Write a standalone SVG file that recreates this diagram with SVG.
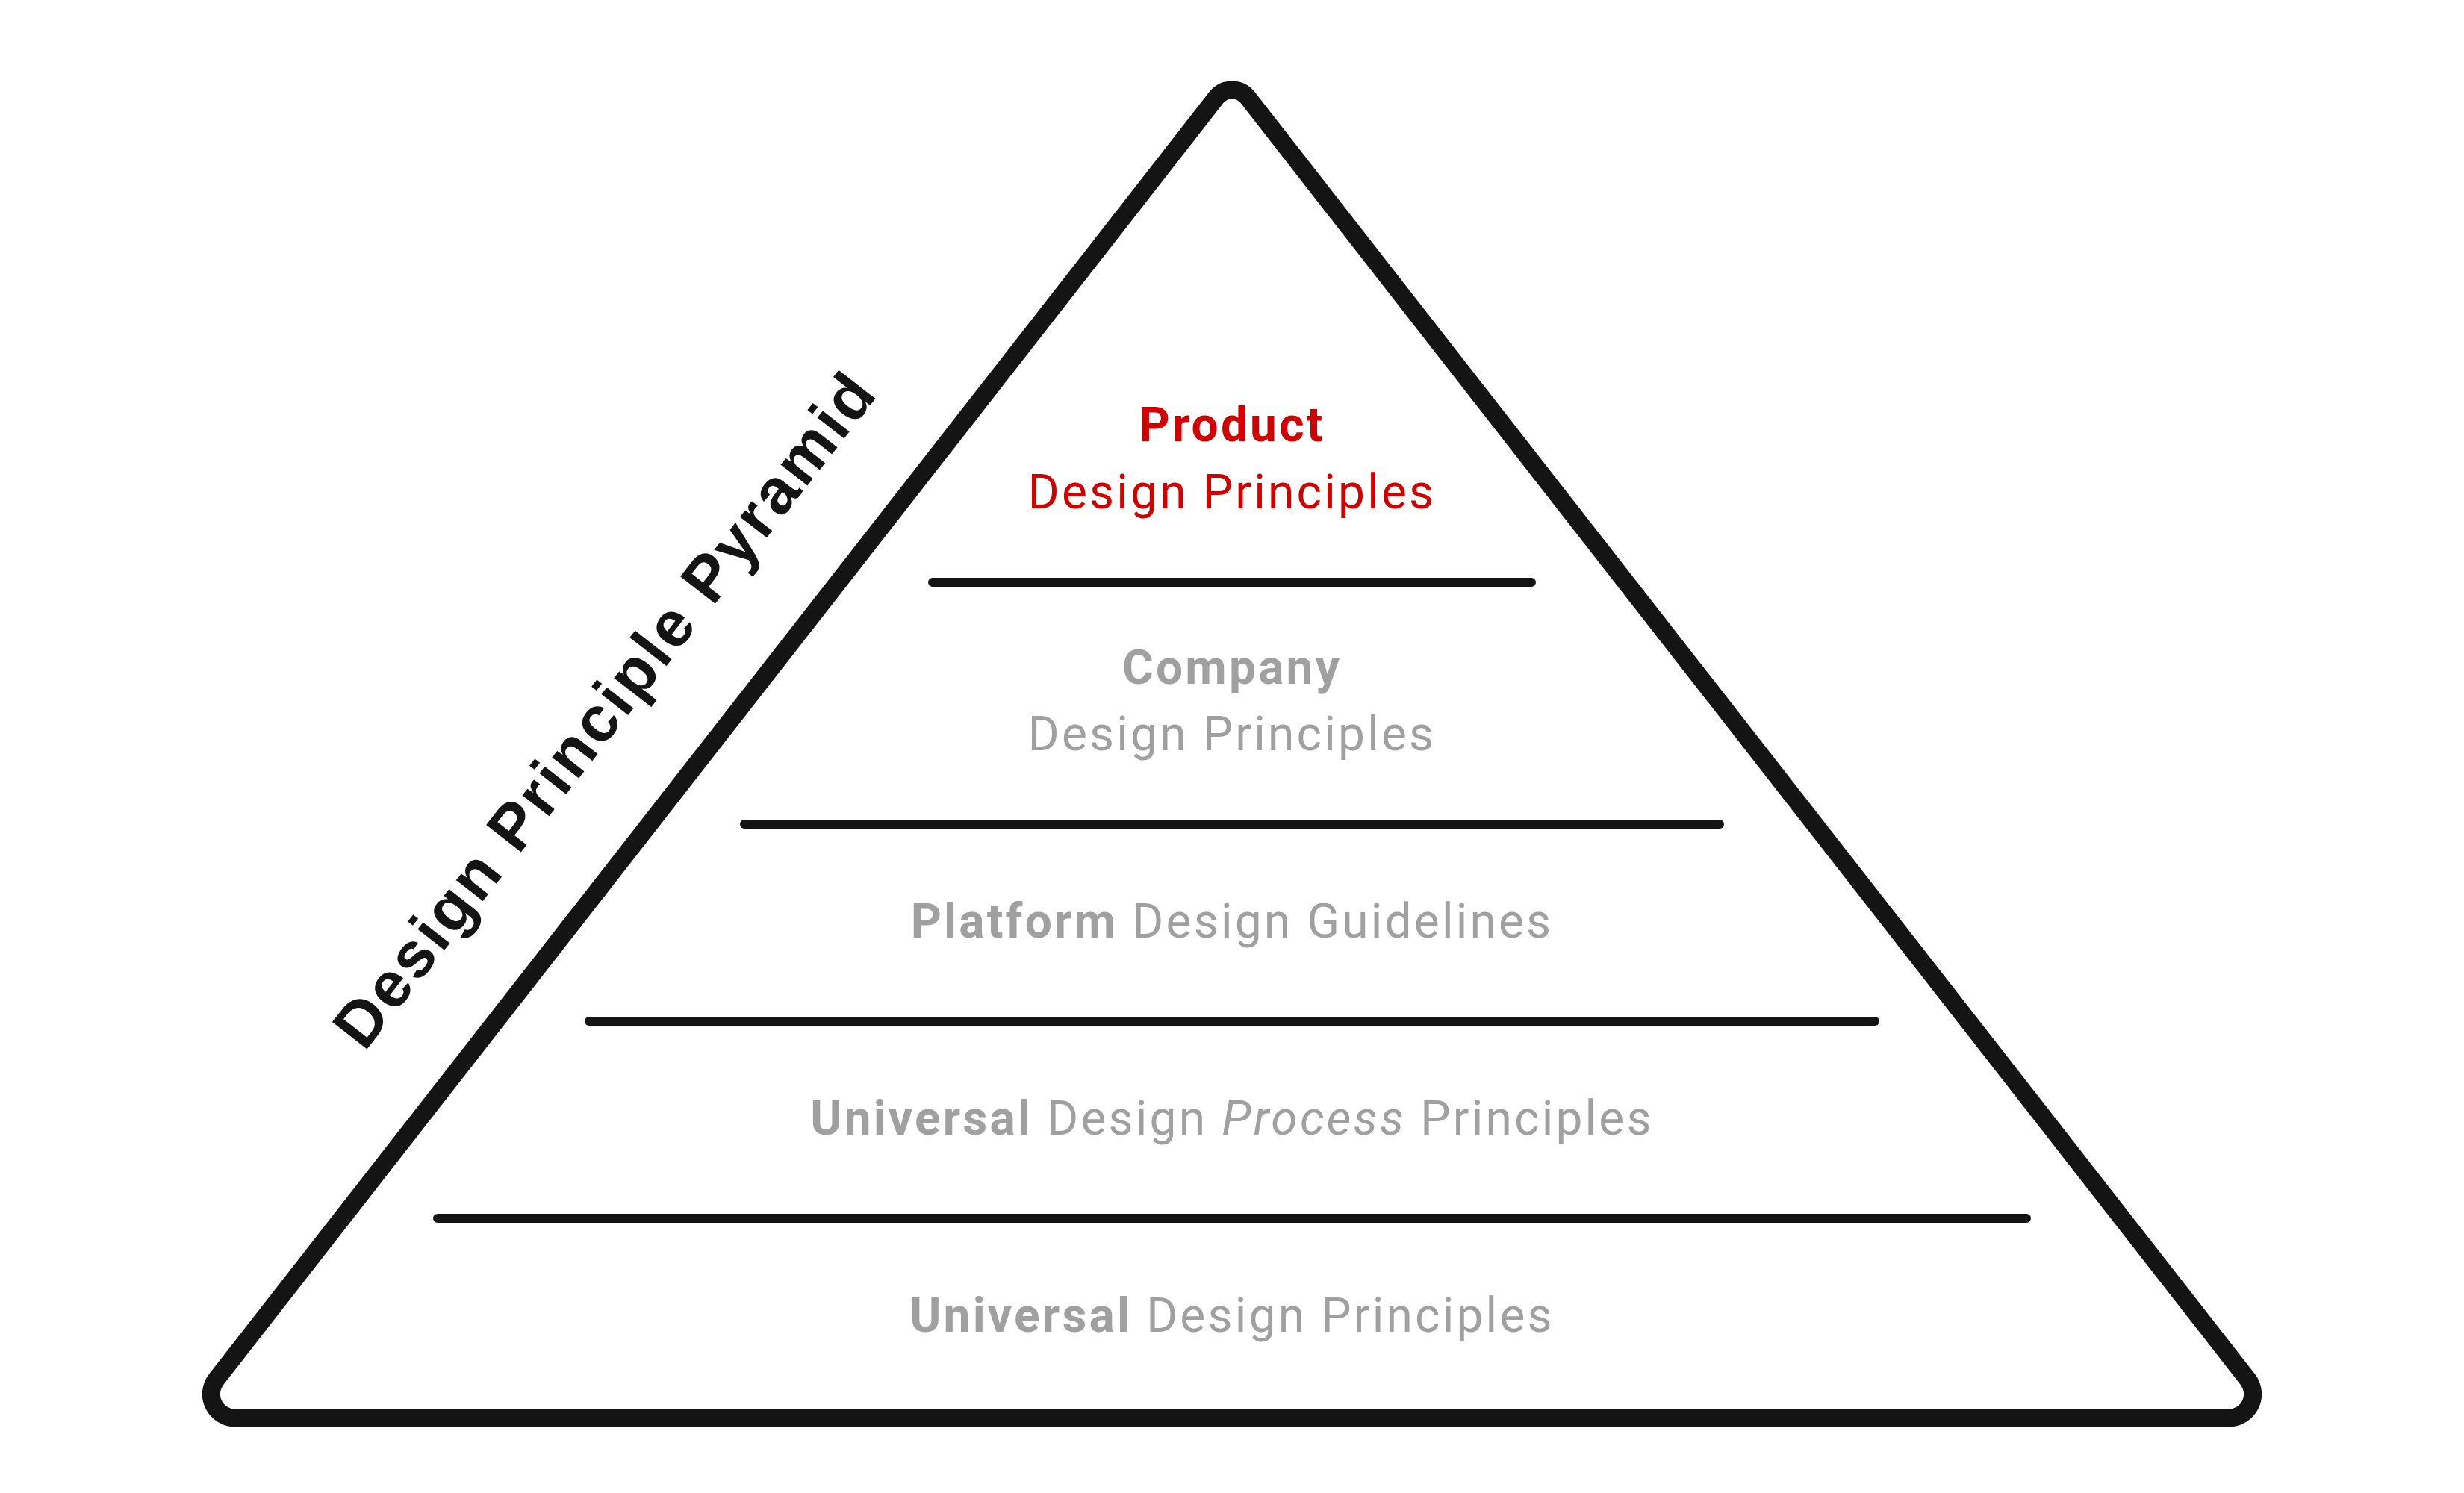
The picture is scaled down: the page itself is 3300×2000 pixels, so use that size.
<svg xmlns="http://www.w3.org/2000/svg" width="3300" height="2000" viewBox="0 0 3300 2000">
<style>
.frame{fill:none;stroke:#141414;stroke-width:24;stroke-linejoin:round}
.tier{stroke:#141414;stroke-width:12;stroke-linecap:round}
.lbl{font-family:Roboto,"Liberation Sans",sans-serif;font-size:64px;letter-spacing:3.2px;text-anchor:middle}
.red{fill:#d10000}
.gray{fill:#a0a0a0}
.b{font-weight:bold}
.title{font-family:"Liberation Sans",Arial,sans-serif;font-weight:bold;font-size:86px;letter-spacing:3.5px;fill:#141414}
</style>
<rect width="3300" height="2000" fill="#ffffff"/>
<g id="pyramid">
<path class="frame" d="M314.83,1899.5 L2985.17,1899.5 A32,32 0 0 0 3010.40,1847.83 L1671.29,130.99 A27,27 0 0 0 1628.71,130.99 L289.60,1847.83 A32,32 0 0 0 314.83,1899.5 Z"/>
</g>
<g id="connectors">
<line class="tier" x1="1249" y1="780" x2="2051" y2="780"/>
<line class="tier" x1="997" y1="1104" x2="2303" y2="1104"/>
<line class="tier" x1="789" y1="1368" x2="2511" y2="1368"/>
<line class="tier" x1="586" y1="1632" x2="2714" y2="1632"/>
</g>
<g id="title">
<text class="title" transform="translate(488,1410) rotate(-52)">Design Principle Pyramid</text>
</g>
<g id="product">
<text class="lbl red b" x="1650" y="591">Product</text>
<text class="lbl red" x="1650" y="681">Design Principles</text>
</g>
<g id="company">
<text class="lbl gray b" x="1650" y="916">Company</text>
<text class="lbl gray" x="1650" y="1005">Design Principles</text>
</g>
<g id="platform">
<text class="lbl gray" x="1650" y="1256"><tspan class="b">Platform</tspan> Design Guidelines</text>
</g>
<g id="universal-process">
<text class="lbl gray" x="1650" y="1520"><tspan class="b">Universal</tspan> Design <tspan font-style="italic">Process</tspan> Principles</text>
</g>
<g id="universal">
<text class="lbl gray" x="1650" y="1784"><tspan class="b">Universal</tspan> Design Principles</text>
</g>
</svg>
